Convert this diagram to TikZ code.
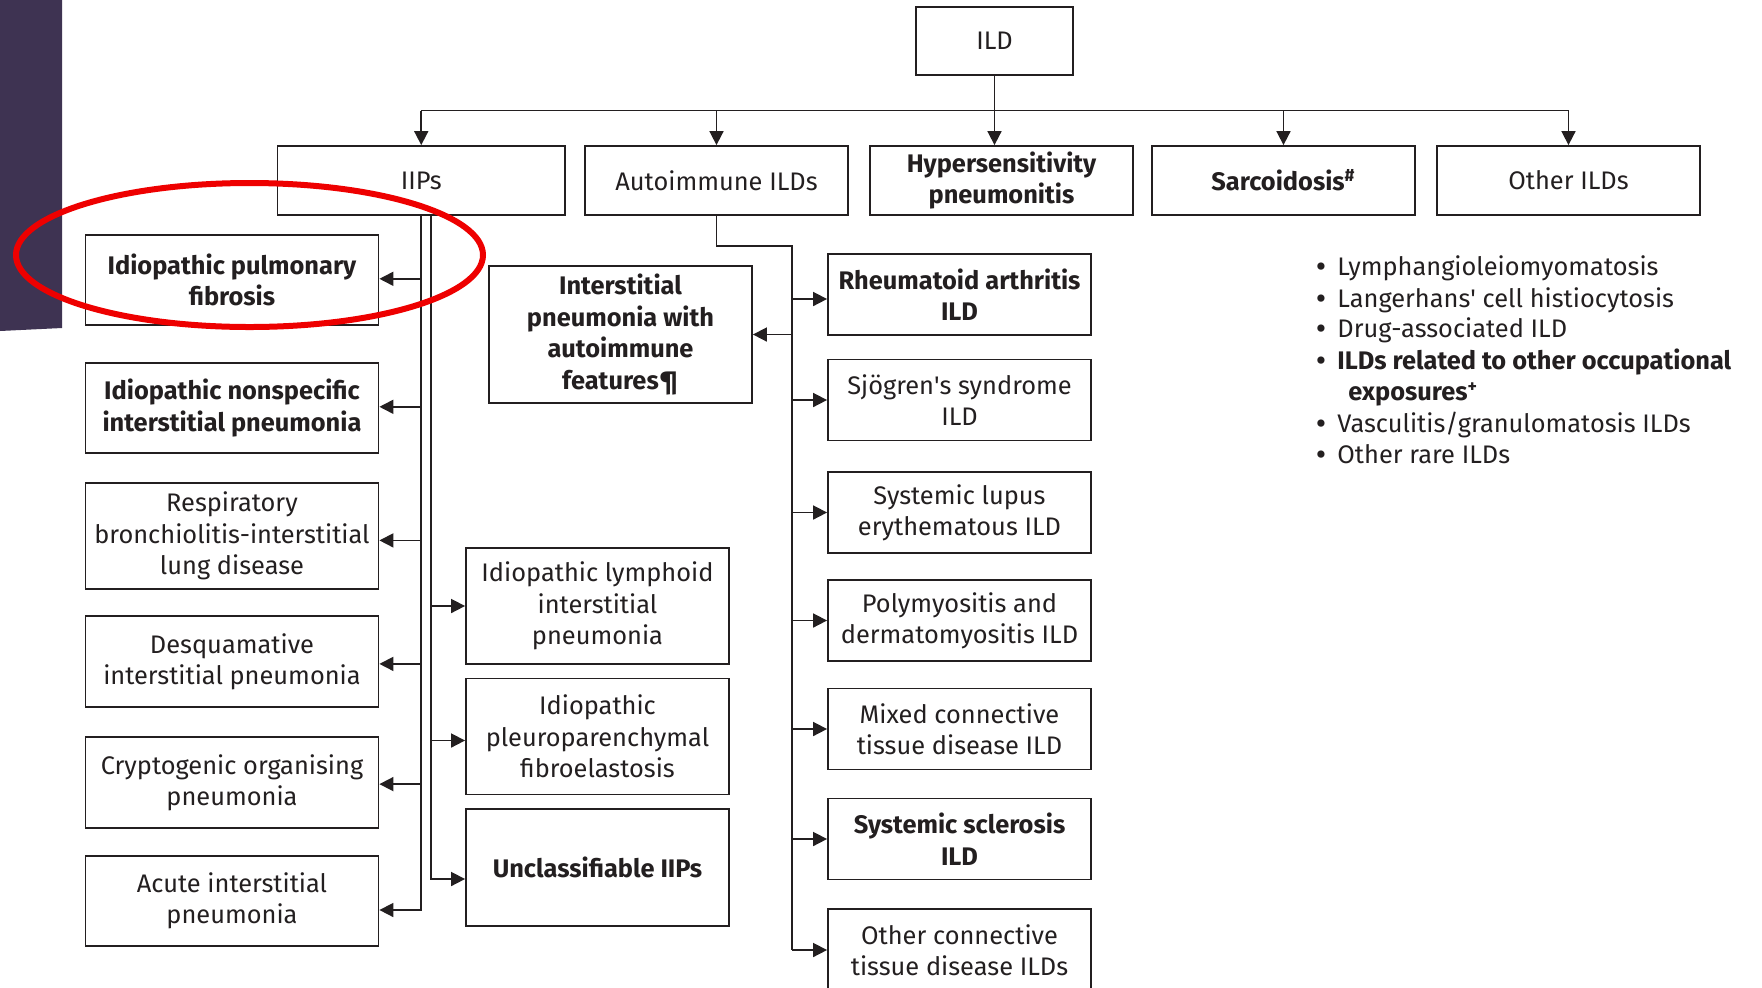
\documentclass[tikz,border=0pt]{standalone}
\usepackage{fontspec}
\setmainfont{Fira Sans}
\usetikzlibrary{arrows.meta}
\definecolor{barpurple}{RGB}{62,51,82}
\definecolor{ringred}{RGB}{238,0,0}
\definecolor{ink}{RGB}{35,31,32}
\newcommand\fsz{\fontsize{12.7}{15.7}\selectfont}
\tikzset{
  box/.style 2 args={draw=ink, line width=0.9pt, minimum width=#1, minimum height=#2,
    inner sep=0pt, align=center, text=ink, font=\fsz},
  bold/.style={font=\fsz\bfseries},
  wire/.style={draw=ink, line width=0.85pt},
  arr/.style={-{Triangle[length=7pt,width=7pt]}},
  item/.style={anchor=mid west, inner sep=0pt, text=ink, font=\fsz},
  dot/.style={anchor=center, inner sep=0pt, text=ink, font=\fontsize{16}{16}\selectfont}
}
\begin{document}
\begin{tikzpicture}[x=0.5pt, y=-0.5pt, line join=miter]
\useasboundingbox (0,0) rectangle (1762,987);
% dai tim ben trai
\fill[barpurple] (0,0) -- (62,0) -- (62,328) -- (0,331) -- cycle;
% hang tren cung
\node[box={78.5pt}{34pt}] (ild) at (994.5,41) {ILD};
\node[box={143.75pt}{34.5pt}] (iips) at (421.25,180.5) {IIPs};
\node[box={131.5pt}{34.5pt}] (aild) at (716.5,180.5) {Autoimmune ILDs};
\node[box={131.5pt}{34.5pt}, bold] (hp) at (1001.5,180.5) {Hypersensitivity\\pneumonitis};
\node[box={131.5pt}{34.5pt}, bold] (sar) at (1283.5,180.5) {Sarcoidosis\textsuperscript{\#}};
\node[box={131.5pt}{34.5pt}] (oth) at (1568.5,180.5) {Other ILDs};
% IIPs: cot trai
\node[box={146.5pt}{45pt}, bold] (ipf) at (232,280) {Idiopathic pulmonary\\fibrosis};
\node[box={146.5pt}{45pt}, bold] (insip) at (232,408) {Idiopathic nonspecific\\interstitial pneumonia};
\node[box={146.5pt}{53pt}] (rbild) at (232,536) {Respiratory\\bronchiolitis-interstitial\\lung disease};
\node[box={146.5pt}{45.5pt}] (dip) at (232,661.5) {Desquamative\\interstitial pneumonia};
\node[box={146.5pt}{45.5pt}] (cop) at (232,782.5) {Cryptogenic organising\\pneumonia};
\node[box={146.5pt}{45pt}] (aip) at (232,901) {Acute interstitial\\pneumonia};
% IIPs: cot phai
\node[box={131.5pt}{58pt}] (lip) at (597.5,606) {Idiopathic lymphoid\\interstitial\\pneumonia};
\node[box={131.5pt}{58pt}] (ppfe) at (597.5,736.5) {Idiopathic\\pleuroparenchymal\\fibroelastosis};
\node[box={131.5pt}{58.5pt}, bold] (uiip) at (597.5,867.5) {Unclassifiable IIPs};
% Autoimmune ILDs
\node[box={131.5pt}{68.5pt}, bold] (ipaf) at (620.5,334.5) {Interstitial\\pneumonia with\\autoimmune\\features¶};
\node[box={131.5pt}{40.5pt}, bold] (ra) at (959.5,294.5) {Rheumatoid arthritis\\ILD};
\node[box={131.5pt}{40.5pt}] (sjo) at (959.5,400) {Sjögren\textquotesingle s syndrome\\ILD};
\node[box={131.5pt}{40.5pt}] (sle) at (959.5,512.5) {Systemic lupus\\erythematous ILD};
\node[box={131.5pt}{40.5pt}] (pmdm) at (959.5,620.5) {Polymyositis and\\dermatomyositis ILD};
\node[box={131.5pt}{40.5pt}] (mctd) at (959.5,729) {Mixed connective\\tissue disease ILD};
\node[box={131.5pt}{40.5pt}, bold] (ssc) at (959.5,839) {Systemic sclerosis\\ILD};
\node[box={131.5pt}{41pt}] (octd) at (959.5,950) {Other connective\\tissue disease ILDs};
% Other ILDs: danh sach
\foreach \yy/\txt [count=\i] in {270.5/Lymphangioleiomyomatosis, 302.5/{Langerhans\textquotesingle\ cell histiocytosis},
  332.5/Drug-associated ILD, 427/{Vasculitis/granulomatosis ILDs}, 458.5/Other rare ILDs}
{ \node[dot] (bu\i) at (1321,\yy) {•};
  \node[item] (li\i) at (1337,\yy) {\txt}; }
\node[dot] (bu6) at (1321,364.5) {•};
\node[item, bold] (li6) at (1337,364.5) {ILDs related to other occupational};
\node[item, bold] (li7) at (1348,395.5) {exposures\textsuperscript{+}};
% noi ILD voi hang tren
\coordinate (bus) at (994.5,110.5);
\draw[wire] (ild.south) -- (bus);
\draw[wire] (bus -| iips.north) -- (bus -| oth.north);
\foreach \b in {iips,aild,sar,oth}
  \draw[wire,arr] (bus -| \b.north) -- (\b.north);
\draw[wire,arr] (bus) -- (hp.north -| bus);
% hai truc cua IIPs
\foreach \b/\dy in {ipf/0.6, insip/0.6, rbild/-2.2, dip/-1.2, cop/-0.8, aip/-4.5}
  \draw[wire,arr] (iips.south) |- ([yshift=\dy pt]\b.east);
\foreach \b/\dy in {lip/0, ppfe/-2, uiip/-5.75}
  \draw[wire,arr] ([xshift=5pt]iips.south) |- ([yshift=\dy pt]\b.west);
% truc Autoimmune
\coordinate (aspine) at (792,245.7);
\draw[wire] (aild.south) |- (aspine) -- (aspine |- octd.west);
\draw[wire,arr] (aspine |- ipaf.east) -- (ipaf.east);
\foreach \b/\dy in {ra/-2.25, sjo/0, sle/0, pmdm/0, mctd/0, ssc/0, octd/0}
  \draw[wire,arr] ([yshift=\dy pt]\b.west -| aspine) -- ([yshift=\dy pt]\b.west);
% vong tron do
\draw[ringred, line width=3pt] (249.5,255) ellipse [x radius=116.75pt, y radius=36pt];
\end{tikzpicture}
\end{document}
